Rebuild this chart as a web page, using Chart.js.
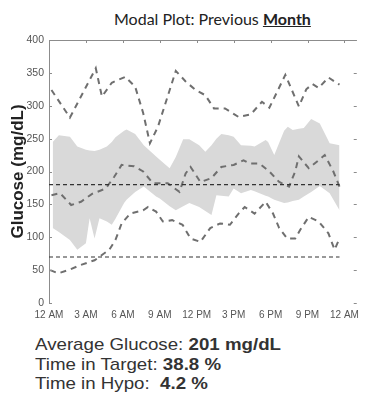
<!DOCTYPE html>
<html>
<head>
<meta charset="utf-8">
<script src="https://cdn.jsdelivr.net/npm/chart.js@4"></script>
<style>
  body { margin: 0; width: 365px; height: 395px; background: #fff; position: relative; overflow: hidden; }
  #title { position: absolute; left: 114px; top: 9px; font: 16px Lato, sans-serif; color: #222; white-space: nowrap; }
  #title b { text-decoration: underline; }
  #box { position: absolute; left: 0; top: 0; width: 365px; height: 325px; }
  #stats { position: absolute; left: 35px; top: 335px; font: 17px "Liberation Sans", Arial, sans-serif; line-height: 19.5px; color: #333; white-space: nowrap; transform: scaleX(1.1); transform-origin: left top; }
</style>
</head>
<body>
<div id="title">Modal Plot: Previous <b>Month</b></div>
<div id="box"><canvas id="myChart"></canvas></div>
<div id="stats">
  <div>Average Glucose: <b>201 mg/dL</b></div>
  <div>Time in Target: <b>38.8 %</b></div>
  <div>Time in Hypo:&nbsp; <b>4.2 %</b></div>
</div>
<script>
// hours of the day and their labels
var tickHours = [0, 3, 6, 9, 12, 15, 18, 21, 24];
var tickLabels = ['12 AM', '3 AM', '6 AM', '9 AM', '12 PM', '3 PM', '6 PM', '9 PM', '12 AM'];

// highest readings
var maxHours = [0.2, 1.7, 3.8, 4.3, 5.1, 6.2, 7.0, 7.65, 8.2, 8.85, 10.3, 11.1, 11.9, 12.7, 13.4, 14.3, 15.4, 16.4, 17.3, 17.9, 19.2, 20.3, 20.9, 21.4, 21.9, 22.7, 23.6];
var maxGlucose = [324, 282, 357, 314, 335, 344, 329, 289, 243, 268, 353, 337, 324, 316, 296, 296, 283, 287, 306, 297, 347, 299, 325, 333, 327, 343, 332];

// median readings
var medHours = [0.2, 0.9, 1.8, 2.6, 3.5, 4.6, 5.3, 5.9, 6.9, 7.65, 8.45, 9.65, 10.6, 11.1, 11.5, 12.3, 13.2, 14.0, 15.0, 15.8, 16.3, 17.1, 17.9, 18.7, 19.5, 20.0, 20.3, 21.1, 21.9, 22.4, 23.1, 23.6];
var medGlucose = [164, 167, 149, 154, 166, 174, 192, 210, 208, 200, 182, 182, 169, 197, 207, 184, 190, 207, 210, 217, 212, 212, 200, 184, 177, 200, 223, 205, 217, 225, 200, 177];

// lowest readings
var minHours = [0.1, 0.75, 1.7, 2.6, 3.7, 4.9, 5.4, 5.9, 6.6, 7.65, 8.05, 8.7, 9.25, 10.0, 10.85, 11.5, 12.3, 13.1, 13.9, 14.7, 15.4, 15.9, 16.7, 17.6, 18.2, 18.7, 19.35, 20.0, 20.4, 21.1, 21.9, 22.7, 23.2, 23.6];
var minGlucose = [50, 45, 51, 58, 65, 81, 96, 121, 136, 141, 146, 139, 124, 126, 119, 98, 93, 114, 121, 119, 136, 146, 136, 154, 136, 114, 98, 98, 111, 131, 124, 106, 81, 98];

// interquartile band
var bandHours = [0.3, 0.8, 1.7, 2.3, 3.0, 3.3, 3.7, 4.1, 4.7, 5.1, 5.4, 6.1, 6.3, 7.0, 7.7, 8.7, 9.0, 9.8, 10.3, 10.9, 11.4, 12.2, 12.7, 13.2, 13.6, 14.0, 14.6, 15.0, 15.6, 16.4, 16.7, 17.6, 17.8, 18.3, 19.1, 19.4, 19.8, 20.3, 20.7, 21.3, 22.0, 22.8, 23.6];
var bandHigh = [245, 255, 253, 238, 233, 232, 231, 233, 238, 245, 252, 262, 264, 257, 240, 223, 218, 205, 222, 249, 249, 240, 230, 240, 250, 257, 255, 253, 240, 239, 238, 248, 245, 225, 262, 268, 263, 265, 266, 280, 273, 243, 240];
var bandLow = [114, 108, 96, 81, 91, 129, 98, 129, 124, 119, 128, 152, 157, 169, 177, 162, 159, 147, 141, 147, 152, 146, 140, 134, 164, 163, 162, 174, 167, 172, 170, 163, 162, 157, 152, 153, 155, 157, 162, 169, 178, 167, 141];

// target and hypo limits
var limitHours = [0, 23.6];
var targetLimit = 180;
var hypoLimit = 70;

function pts(xs, ys) {
    return xs.map(function (x, i) { return { x: x, y: ys[i] }; });
}

var lineGray = '#6f6f6f';
var frameGray = '#8c8c8c';

// top frame line plus inward tick marks
var frame = {
    id: 'frame',
    afterDraw: function (chart) {
        var c = chart.ctx, a = chart.chartArea;
        var xs = chart.scales.x, ys = chart.scales.y;
        c.save();
        c.strokeStyle = frameGray;
        c.lineWidth = 1;
        c.beginPath();
        c.moveTo(a.left, a.top + 0.5);
        c.lineTo(a.right, a.top + 0.5);
        tickHours.forEach(function (h) {
            var px = Math.round(xs.getPixelForValue(h)) + 0.5;
            c.moveTo(px, a.top);
            c.lineTo(px, a.top + 3);
        });
        ys.ticks.forEach(function (t) {
            var py = Math.round(ys.getPixelForValue(t.value)) + 0.5;
            c.moveTo(a.left, py);
            c.lineTo(a.left + 3, py);
            c.moveTo(a.right, py);
            c.lineTo(a.right - 3, py);
        });
        c.stroke();
        c.restore();
    }
};

var ctx = document.getElementById('myChart').getContext('2d');
var myChart = new Chart(ctx, {
    type: 'line',
    data: {
        datasets: [{
            data: pts(bandHours, bandLow),
            borderWidth: 0,
            pointRadius: 0,
            fill: false
        }, {
            data: pts(bandHours, bandHigh),
            borderWidth: 0,
            pointRadius: 0,
            backgroundColor: '#d9d9d9',
            fill: '-1'
        }, {
            data: pts(limitHours, [targetLimit, targetLimit]),
            borderColor: '#333',
            borderWidth: 1.2,
            borderDash: [4, 3],
            pointRadius: 0
        }, {
            data: pts(limitHours, [hypoLimit, hypoLimit]),
            borderColor: '#333',
            borderWidth: 1.2,
            borderDash: [4, 3],
            pointRadius: 0
        }, {
            data: pts(maxHours, maxGlucose),
            borderColor: lineGray,
            borderWidth: 2,
            borderDash: [6, 5],
            pointRadius: 0
        }, {
            data: pts(medHours, medGlucose),
            borderColor: lineGray,
            borderWidth: 2,
            borderDash: [6, 5],
            pointRadius: 0
        }, {
            data: pts(minHours, minGlucose),
            borderColor: lineGray,
            borderWidth: 2,
            borderDash: [6, 5],
            pointRadius: 0
        }]
    },
    options: {
        responsive: true,
        maintainAspectRatio: false,
        animation: false,
        layout: { padding: { top: 40, right: 3, left: 0, bottom: 0 } },
        plugins: {
            legend: { display: false },
            tooltip: { enabled: false },
            filler: { drawTime: 'beforeDatasetsDraw' }
        },
        scales: {
            x: {
                type: 'linear',
                min: 0,
                max: 25,
                grid: { display: false, drawTicks: false },
                border: { display: false },
                afterBuildTicks: function (scale) {
                    scale.ticks = tickHours.map(function (h) { return { value: h }; });
                },
                afterFit: function (scale) { scale.height = 22; },
                ticks: {
                    autoSkip: false,
                    maxRotation: 0,
                    padding: 6,
                    color: '#555',
                    font: { family: 'Liberation Sans', size: 10 },
                    callback: function (v, i) { return tickLabels[i]; }
                }
            },
            y: {
                min: 0,
                max: 400,
                grid: { display: false, drawTicks: false },
                border: { display: true, color: frameGray, width: 1 },
                afterFit: function (scale) { scale.width = 49; },
                ticks: {
                    stepSize: 50,
                    padding: 5,
                    color: '#555',
                    font: { family: 'Liberation Sans', size: 10.5 }
                },
                title: {
                    display: true,
                    text: 'Glucose (mg/dL)',
                    color: '#222',
                    padding: { top: 8, bottom: 0 },
                    font: { family: 'Liberation Sans', size: 17, weight: 'bold' }
                }
            }
        }
    },
    plugins: [frame]
});
</script>
</body>
</html>
